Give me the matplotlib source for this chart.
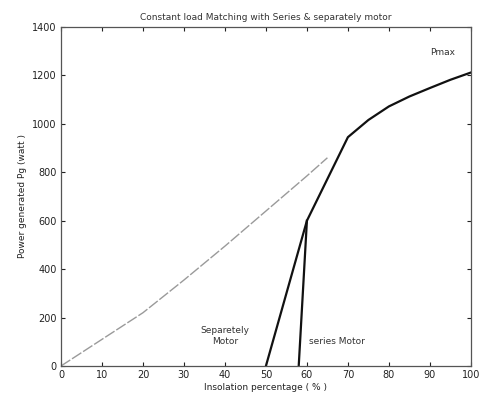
import matplotlib
matplotlib.use('Agg')
import matplotlib.pyplot as plt

# Pmax curve (faint part up to ~65 %, dark part from 60 % on)
pmax_x = [0, 10, 20, 30, 40, 50, 60, 65]
pmax_y = [0, 110, 220, 355, 495, 640, 785, 860]

# separately excited motor, joins Pmax at 70 %
sep_x = [50, 60, 70, 75, 80, 85, 90, 95, 100]
sep_y = [0, 600, 945, 1016, 1072, 1113, 1148, 1182, 1212]

# series motor
ser_x = [58, 60]
ser_y = [0, 600]

xticks = [0, 10, 20, 30, 40, 50, 60, 70, 80, 90, 100]
yticks = [0, 200, 400, 600, 800, 1000, 1200, 1400]

plt.rcParams['font.family'] = 'DejaVu Sans'
fig = plt.figure(figsize=(4.8, 4.0), dpi=100)
ax = fig.add_axes([0.127, 0.085, 0.854, 0.8475])

ax.plot(pmax_x, pmax_y, color='#9a9a9a', lw=1.0, dashes=(8, 1.5))
ax.plot(sep_x, sep_y, color='#111111', lw=1.6)
ax.plot(ser_x, ser_y, color='#111111', lw=1.6)

ax.text(93, 1293, 'Pmax', fontsize=6.5, color='#333333', ha='center', va='center')
ax.text(40, 125, 'Separetely\nMotor', fontsize=6.5, color='#333333', ha='center', va='center',
        linespacing=1.3)
ax.text(60.5, 100, 'series Motor', fontsize=6.5, color='#333333', ha='left', va='center')

ax.set_xlim(0, 100)
ax.set_ylim(0, 1400)
ax.set_xticks(xticks)
ax.set_yticks(yticks)
ax.tick_params(direction='in', top=True, right=True, labelsize=7, length=3,
               colors='#222222', pad=3)
for s in ax.spines.values():
  s.set_color('#555555')
  s.set_linewidth(0.9)

ax.set_title('Constant load Matching with Series & separately motor', fontsize=6.5,
             color='#333333', pad=5)
ax.set_xlabel('Insolation percentage ( % )', fontsize=6.5, color='#222222', labelpad=2)
ax.set_ylabel('Power generated Pg (watt )', fontsize=6.5, color='#222222', labelpad=4)

fig.savefig('out.png', dpi=100)
